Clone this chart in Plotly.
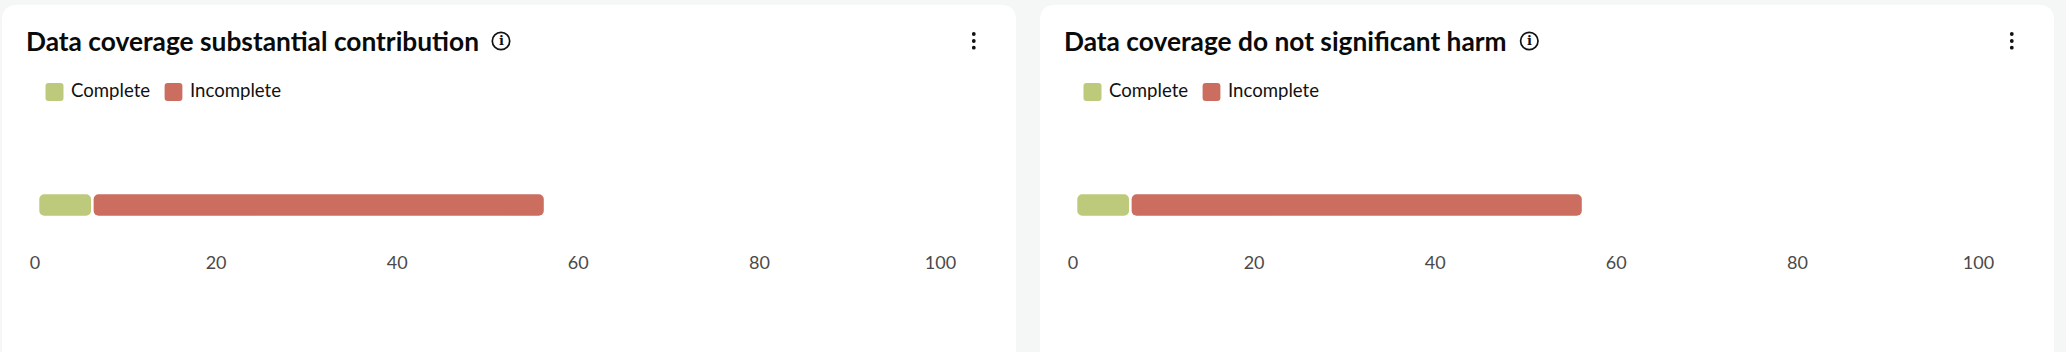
import plotly.graph_objects as go

W, H = 2066, 352
panel_titles = ["Data coverage substantial contribution", "Data coverage do not significant harm"]
categories = ["Coverage"]
series_names = ["Complete", "Incomplete"]
complete_values = [6, 6]
incomplete_values = [50, 50]
tick_values = [0, 20, 40, 60, 80, 100]
GREEN, RED = "#bdc97b", "#cc6e5f"
FONT = "Lato"
OFFSET = 1038
AXIS_LEFT, AXIS_RIGHT = 38, 943.5
GAP = 1.3 / ((AXIS_RIGHT - AXIS_LEFT) / 100)  # half the white gap round each segment, in axis units


def px(x):
    return x / W


def py(y):
    return 1 - y / H


def rounded(x0, y0, x1, y1, r, fill):
    d = (
        f"M {px(x0 + r)} {py(y0)} L {px(x1 - r)} {py(y0)} Q {px(x1)} {py(y0)} {px(x1)} {py(y0 + r)} "
        f"L {px(x1)} {py(y1 - r)} Q {px(x1)} {py(y1)} {px(x1 - r)} {py(y1)} "
        f"L {px(x0 + r)} {py(y1)} Q {px(x0)} {py(y1)} {px(x0)} {py(y1 - r)} "
        f"L {px(x0)} {py(y0 + r)} Q {px(x0)} {py(y0)} {px(x0 + r)} {py(y0)} Z"
    )
    return dict(type="path", xref="paper", yref="paper", path=d, fillcolor=fill, line_width=0, layer="below")


def dot(cx, cy, r, fill="#111111", line=None, lw=0):
    return dict(type="circle", xref="paper", yref="paper", x0=px(cx - r), x1=px(cx + r), y0=py(cy + r), y1=py(cy - r),
                fillcolor=fill, line=dict(color=line or fill, width=lw), layer="above")


def label(x, y, text, size, color, anchor="left", family=FONT, weight=None):
    return dict(xref="paper", yref="paper", x=px(x), y=py(y), text=text, showarrow=False, xanchor=anchor,
                yanchor="middle", font=dict(size=size, color=color, family=family, weight=weight), borderpad=0,
                borderwidth=0)


def add_segment(fig, start, value, name, color, sfx):
    fig.add_bar(x=[value - 2 * GAP], base=[start + GAP], y=categories, orientation="h", name=name, marker_color=color,
                marker_line_width=0, xaxis=f"x{sfx}", yaxis=f"y{sfx}", showlegend=False)


fig = go.Figure()
shapes, annotations = [], []
card_edges = [(2, 1016), (1040, 2054)]
for i, title in enumerate(panel_titles):
    o = OFFSET * i
    sfx = "" if i == 0 else "2"
    add_segment(fig, 0, complete_values[i], series_names[0], GREEN, sfx)
    add_segment(fig, complete_values[i], incomplete_values[i], series_names[1], RED, sfx)
    shapes.append(rounded(card_edges[i][0], 4.7, card_edges[i][1], 372, 16, "#ffffff"))
    annotations.append(label(25.5 + o, 41, title, 26.3, "#0a0a0a", weight=700))
    title_icon = 501 if i == 0 else 491.3
    shapes.append(dot(title_icon + o, 41, 8.7, fill="rgba(0,0,0,0)", line="#111111", lw=1.7))
    annotations.append(label(title_icon + o, 41, "i", 13, "#111111", anchor="center", family="DejaVu Serif", weight=700))
    for cy in (34, 41, 47.7):
        shapes.append(dot(973.8 + o, cy, 1.9))
    shapes.append(rounded(45.5 + o, 83, 63.5 + o, 101, 3, GREEN))
    shapes.append(rounded(164.6 + o, 83, 182.4 + o, 101, 3, RED))
    annotations.append(label(70.5 + o, 90, series_names[0], 18.6, "#111111"))
    annotations.append(label(189.5 + o, 90, series_names[1], 18.6, "#111111"))

axis_common = dict(range=[0, 100], tickvals=tick_values, showgrid=False, zeroline=False, showline=False,
                   ticks="", ticklabelshift=-3, ticklabelstandoff=0, automargin=False,
                   tickfont=dict(size=18, color="#4a4a4a", family=FONT), fixedrange=True)
y_common = dict(domain=[py(250), py(160)], visible=False, fixedrange=True, automargin=False)
fig.update_layout(
    width=W, height=H, margin=dict(l=0, r=0, t=0, b=0, pad=0), autosize=False,
    paper_bgcolor="#f5f7f6", plot_bgcolor="rgba(0,0,0,0)",
    barmode="overlay", bargap=1 - 21.4 / 90, barcornerradius=5,
    shapes=shapes, annotations=annotations,
    xaxis=dict(domain=[px(AXIS_LEFT), px(AXIS_RIGHT)], anchor="y", **axis_common),
    xaxis2=dict(domain=[px(AXIS_LEFT + OFFSET), px(AXIS_RIGHT + OFFSET)], anchor="y2", **axis_common),
    yaxis=dict(anchor="x", **y_common),
    yaxis2=dict(anchor="x2", **y_common),
)
fig.write_html("out.html", config={"displayModeBar": False},
               post_script="document.body.style.margin='0';document.documentElement.style.overflow='hidden';document.body.style.background='#f5f7f6';")
